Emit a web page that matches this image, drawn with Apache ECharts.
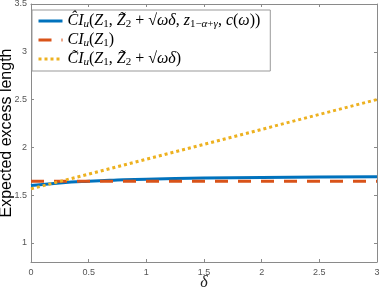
<!DOCTYPE html>
<html><head><meta charset="utf-8">
<script src="https://cdn.jsdelivr.net/npm/echarts@6/dist/echarts.min.js"></script>
<style>html,body{margin:0;padding:0;background:#fff}#c{width:382px;height:291px}</style>
</head><body><div id="c"></div>
<script>
const delta = [0, 0.25, 0.5, 0.75, 1, 1.5, 2, 2.5, 3];
const ciHat = [1.60, 1.628, 1.646, 1.658, 1.667, 1.678, 1.685, 1.689, 1.691];
const ciZ1 = [1.645, 1.645, 1.645, 1.645, 1.645, 1.645, 1.645, 1.645, 1.645];
const ciTilde = [1.565, 1.643, 1.72, 1.798, 1.876, 2.032, 2.188, 2.344, 2.5];
const xTicks = [0, 0.5, 1, 1.5, 2, 2.5, 3];
const yTicks = [1, 1.5, 2, 2.5, 3, 3.5];
const seriesNames = ['hat', 'z1', 'tilde'];

const axisCol = '#8a8a8a', labCol = '#555';
const pairs = a => delta.map((d, i) => [d, a[i]]);
const chart = echarts.init(document.getElementById('c'));
const serif = 'Liberation Serif';
const F = 16, S = 11;
const rich = {
  m: {fontFamily: serif, fontStyle: 'italic', fontSize: F, color: '#000'},
  r: {fontFamily: serif, fontSize: F, color: '#000'},
  s: {fontFamily: serif, fontStyle: 'italic', fontSize: S, color: '#000', padding: [7, 0, 0, 0]},
  n: {fontFamily: serif, fontSize: S, color: '#000', padding: [7, 0, 0, 0]}
};
const labels = {
  hat: '{m|C\u0302I}{s|u}{r|(}{m|Z}{n|1}{r|, }{m|Z\u0303}{n|2}{r| + √}{m|ωδ}{r|, }{m|z}{n|1−}{s|α}{n|+}{s|γ}{r|, }{m|c}{r|(}{m|ω}{r|))}',
  z1: '{m|CI}{s|u}{r|(}{m|Z}{n|1}{r|)}',
  tilde: '{m|C\u0303I}{s|u}{r|(}{m|Z}{n|1}{r|, }{m|Z\u0303}{n|2}{r| + √}{m|ωδ}{r|)}'
};
const cols = {hat: '#0072BD', z1: '#D95319', tilde: '#EDB120'};
const dash = {hat: 'solid', z1: [13, 10], tilde: [3, 3]};
chart.setOption({
  animation: false,
  grid: {left: 31, right: 5, top: 4, bottom: 29, outerBoundsMode: 'none'},
  legend: {
    left: 32, top: 10, orient: 'vertical', itemWidth: 24, itemHeight: 14, itemGap: 2,
    padding: [3, 10, 3, 5],
    backgroundColor: '#fff', borderColor: '#999', borderWidth: 1,
    data: seriesNames.map(n => ({name: n, itemStyle: {opacity: 0},
      lineStyle: {color: cols[n], width: 3, type: dash[n]}})),
    formatter: n => labels[n],
    textStyle: {rich: rich, fontSize: F}
  },
  xAxis: [{
    type: 'value', min: 0, max: 3, interval: 0.5,
    name: 'δ', nameLocation: 'middle', nameGap: 13, nameMoveOverlap: false,
    nameTextStyle: {fontFamily: serif, fontStyle: 'italic', fontSize: 16, color: '#222'},
    axisLine: {lineStyle: {color: axisCol}},
    axisTick: {inside: true, length: 3, lineStyle: {color: axisCol}, customValues: xTicks},
    axisLabel: {color: labCol, fontSize: 9, fontFamily: 'Liberation Sans', margin: 6, customValues: xTicks},
    splitLine: {show: false}
  }, {
    type: 'value', min: 0, max: 3, position: 'top',
    axisLine: {show: true, onZero: false, lineStyle: {color: axisCol}},
    axisTick: {inside: true, length: 3, lineStyle: {color: axisCol}, customValues: xTicks},
    axisLabel: {show: false}, splitLine: {show: false}
  }],
  yAxis: [{
    type: 'value', min: 0.8, max: 3.5,
    name: 'Expected excess length', nameLocation: 'middle', nameGap: 16, nameMoveOverlap: false,
    nameTextStyle: {fontFamily: 'Liberation Sans', fontSize: 16, color: '#000'},
    axisLine: {show: true, onZero: false, lineStyle: {color: axisCol}},
    axisTick: {inside: true, length: 3, lineStyle: {color: axisCol}, customValues: yTicks},
    axisLabel: {color: labCol, fontSize: 9, fontFamily: 'Liberation Sans', margin: 4, customValues: yTicks},
    splitLine: {show: false}
  }, {
    type: 'value', min: 0.8, max: 3.5, position: 'right',
    axisLine: {show: true, onZero: false, lineStyle: {color: axisCol}},
    axisTick: {inside: true, length: 3, lineStyle: {color: axisCol}, customValues: yTicks},
    axisLabel: {show: false}, splitLine: {show: false}
  }],
  series: [
    {name: 'hat', type: 'line', data: pairs(ciHat), smooth: true, symbol: 'none', z: 2,
     lineStyle: {color: cols.hat, width: 3}, itemStyle: {color: cols.hat}},
    {name: 'z1', type: 'line', data: pairs(ciZ1), symbol: 'none', z: 3,
     lineStyle: {color: cols.z1, width: 3, type: dash.z1}, itemStyle: {color: cols.z1}},
    {name: 'tilde', type: 'line', data: pairs(ciTilde), symbol: 'none', z: 4,
     lineStyle: {color: cols.tilde, width: 3, type: dash.tilde}, itemStyle: {color: cols.tilde}}
  ]
});
</script></body></html>
